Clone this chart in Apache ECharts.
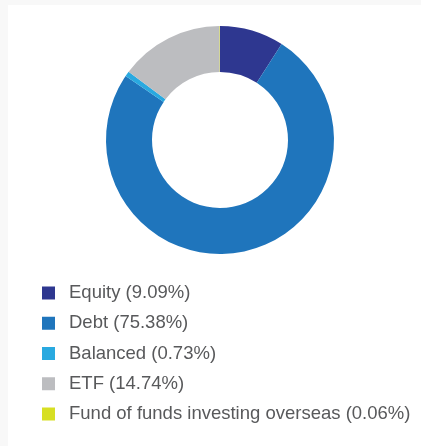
<!DOCTYPE html>
<html>
<head>
<meta charset="utf-8">
<script src="https://cdn.jsdelivr.net/npm/echarts@6/dist/echarts.min.js"></script>
<style>
  html, body { margin: 0; padding: 0; background: #f8f8f8; width: 421px; height: 446px; overflow: hidden; }
  #chart { position: absolute; left: 8px; top: 5px; width: 413px; height: 441px; background: #ffffff; }
</style>
</head>
<body>
<div id="chart"></div>
<script>
// Fund category allocation (percent of total)
const categories = ['Equity', 'Debt', 'Balanced', 'ETF', 'Fund of funds investing overseas'];
const shares = [9.09, 75.38, 0.73, 14.74, 0.06];
const colors = ['#2e3790', '#1f75bc', '#29a9e0', '#bcbdc0', '#d7df23'];

const chart = echarts.init(document.getElementById('chart'), null, { renderer: 'canvas' });

const pieData = categories.map((name, i) => ({
  name: name,
  value: shares[i],
  itemStyle: { color: colors[i] }
}));

chart.setOption({
  animation: false,
  legend: {
    orient: 'vertical',
    left: 29,
    top: 273.5,
    itemWidth: 13,
    itemHeight: 13,
    itemGap: 11.25,
    icon: 'rect',
    selectedMode: false,
    data: categories,
    formatter: function (name) {
      const i = categories.indexOf(name);
      return name + ' (' + shares[i].toFixed(2) + '%)';
    },
    textStyle: {
      fontFamily: '"Liberation Sans", Arial, Helvetica, sans-serif',
      fontSize: 18.5,
      lineHeight: 18,
      color: '#58595b',
      padding: [0, 0, 0, 9]
    }
  },
  series: [{
    type: 'pie',
    center: [212, 135],
    radius: [68, 114],
    startAngle: 90,
    clockwise: true,
    label: { show: false },
    labelLine: { show: false },
    emphasis: { disabled: true },
    itemStyle: { borderWidth: 0 },
    data: pieData
  }]
});
</script>
</body>
</html>
